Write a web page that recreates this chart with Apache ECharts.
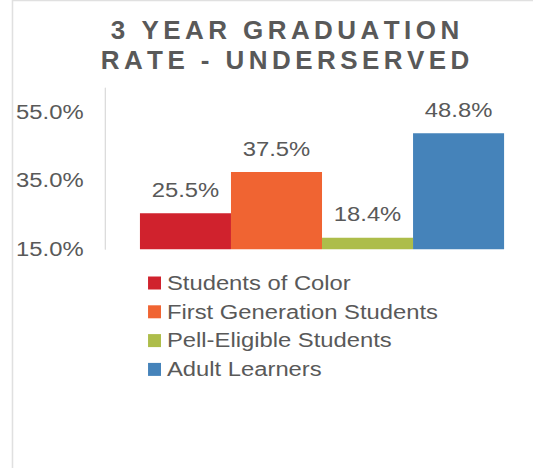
<!DOCTYPE html>
<html>
<head>
<meta charset="utf-8">
<script src="https://cdn.jsdelivr.net/npm/echarts@6/dist/echarts.min.js"></script>
<style>
  html, body { margin: 0; padding: 0; background: #fff; overflow: hidden; }
  /* the reference text is horizontally stretched, so draw narrower and stretch */
  #chart { width: 448px; height: 468px; transform: scaleX(1.19); transform-origin: 0 0; }
</style>
</head>
<body>
<div id="chart"></div>
<script>
const groups = ["Students of Color", "First Generation Students", "Pell-Eligible Students", "Adult Learners"];
const rates = [25.5, 37.5, 18.4, 48.8];
const colors = ["#D0222D", "#F06432", "#ADBD4A", "#4583BA"];
const yTicks = { min: 15, max: 62, step: 20 };

const font = "Liberation Sans, Arial, sans-serif";
const grey = "#595959";
const stretch = 1.19;

// letter-spaced title: rich-text spaces between characters
const spaced = (s) => s.split("").join("{g| }");
const titleText = spaced("3 YEAR GRADUATION") + "\n" + spaced("RATE - UNDERSERVED");

const chart = echarts.init(document.getElementById("chart"), null, { renderer: "svg" });

const series = groups.map((name, i) => ({
  name: name,
  type: "bar",
  data: [rates[i]],
  itemStyle: { color: colors[i] },
  barGap: "0%",
  barCategoryGap: "0%",
  label: {
    show: true,
    position: "top",
    distance: 13,
    color: grey,
    fontSize: 20,
    fontFamily: font,
    formatter: (p) => p.value.toFixed(1) + "%",
  },
}));

chart.setOption({
  animation: false,
  backgroundColor: "#fff",
  legend: {
    orient: "vertical",
    left: 119.4,
    top: 268,
    icon: "rect",
    itemWidth: 10.9,
    itemHeight: 13,
    itemGap: 8.8,
    data: groups,
    textStyle: { color: grey, fontSize: 20, fontFamily: font },
  },
  graphic: [
    {
      type: "rect",
      shape: { x: 10.5, y: 0.5, width: 600, height: 600 },
      style: { fill: null, stroke: "#e0e0e0", lineWidth: 1.3 },
      silent: true,
    },
    {
      // title is not stretched in the reference, so undo the page stretch
      type: "text",
      x: 285 / stretch,
      y: 45,
      scaleX: 1 / stretch,
      silent: true,
      style: {
        text: titleText,
        fill: grey,
        fontSize: 26,
        fontWeight: "bold",
        fontFamily: font,
        lineHeight: 30,
        align: "center",
        verticalAlign: "middle",
        rich: {
          g: { fontSize: 16, fontFamily: font, lineHeight: 30 },
        },
      },
    },
  ],
  grid: { left: 117.6, right: 24.4, top: 88, bottom: 218.7 },
  xAxis: {
    type: "category",
    data: [""],
    axisLine: { show: false },
    axisTick: { show: false },
    axisLabel: { show: false },
  },
  yAxis: {
    type: "value",
    min: yTicks.min,
    max: yTicks.max,
    interval: yTicks.step,
    offset: 29.4,
    splitLine: { show: false },
    axisTick: { show: false },
    axisLine: { show: true, lineStyle: { color: "#d9d9d9", width: 1 } },
    axisLabel: {
      showMaxLabel: false,
      margin: 18,
      color: grey,
      fontSize: 20,
      fontFamily: font,
      formatter: (v) => v.toFixed(1) + "%",
    },
  },
  series: series,
});
</script>
</body>
</html>
